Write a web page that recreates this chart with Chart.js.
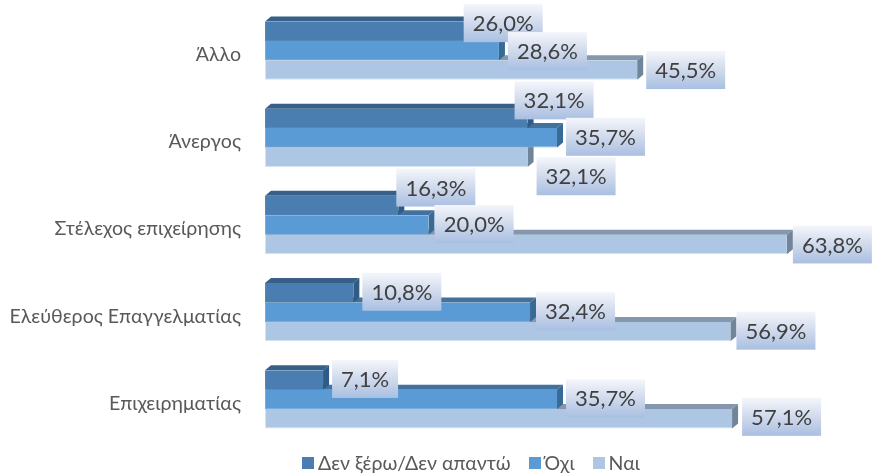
<!DOCTYPE html>
<html lang="el">
<head>
<meta charset="utf-8">
<script src="https://cdn.jsdelivr.net/npm/chart.js@4"></script>
<style>
  html, body { margin: 0; background: #fff; }
  #wrap { position: relative; width: 872px; height: 475px; overflow: hidden; }
  #legend { position: absolute; left: 302px; top: 450px; display: flex; font: 19.5px Lato, "Open Sans", sans-serif; color: #595959; line-height: 26px; }
  #legend span.item { display: flex; align-items: center; margin-right: 18px; white-space: nowrap; }
  #legend i { width: 12px; height: 12px; margin-right: 4px; display: block; }
</style>
</head>
<body>
<div id="wrap">
  <canvas id="chart" width="872" height="475"></canvas>
  <div id="legend"></div>
</div>
<script>
const categories = ['Άλλο', 'Άνεργος', 'Στέλεχος επιχείρησης', 'Ελεύθερος Επαγγελματίας', 'Επιχειρηματίας'];
const seriesNames = ['Δεν ξέρω/Δεν απαντώ', 'Όχι', 'Ναι'];
const dontKnow = [26.0, 32.1, 16.3, 10.8, 7.1];
const no = [28.6, 35.7, 20.0, 32.4, 35.7];
const yes = [45.5, 32.1, 63.8, 56.9, 57.1];

const frontColors = ['#4a7eb0', '#5b9bd5', '#adc6e4'];
const edgeColors = ['#5587b7', '#78aede', '#d8e3f2'];
const topColors = ['#375f88', '#41719c', '#8497ad'];
const sideColors = ['#2f5b85', '#386a96', '#71859a'];
const DEPTH_X = 6;
const DEPTH_Y = 5;

// the data labels were dragged around by hand in the original, offsets from bar end / bar centre
const labelDx = [[-14, -13, -2, 9, 9], [9, 9, 6, 6, 9], [9, 9, 6, 6, 10]];
const labelDy = [[-27, -37, -37, -20, -20], [-18.5, -20, -20, -20, -20], [-19, 0, -19, -20, -21]];

function pct(v) {
  return v.toFixed(1).replace('.', ',') + '%';
}

// fake 3D: top and side face behind every bar
const depthFaces = {
  id: 'depthFaces',
  beforeDatasetsDraw(chart) {
    const ctx = chart.ctx;
    for (let d = 2; d >= 0; d--) {
      chart.getDatasetMeta(d).data.forEach(bar => {
        const top = bar.y - bar.height / 2;
        const bottom = bar.y + bar.height / 2;
        ctx.fillStyle = topColors[d];
        ctx.beginPath();
        ctx.moveTo(bar.base, top);
        ctx.lineTo(bar.base + DEPTH_X, top - DEPTH_Y);
        ctx.lineTo(bar.x + DEPTH_X, top - DEPTH_Y);
        ctx.lineTo(bar.x, top);
        ctx.fill();
        ctx.fillStyle = sideColors[d];
        ctx.beginPath();
        ctx.moveTo(bar.x, top);
        ctx.lineTo(bar.x + DEPTH_X, top - DEPTH_Y);
        ctx.lineTo(bar.x + DEPTH_X, bottom - DEPTH_Y);
        ctx.lineTo(bar.x, bottom);
        ctx.fill();
      });
    }
  }
};

// value labels in gradient boxes
const valueBoxes = {
  id: 'valueBoxes',
  afterDatasetsDraw(chart) {
    const ctx = chart.ctx;
    ctx.font = '22px Lato, "Open Sans", sans-serif';
    ctx.textAlign = 'center';
    ctx.textBaseline = 'middle';
    chart.data.datasets.forEach((ds, d) => {
      chart.getDatasetMeta(d).data.forEach((bar, i) => {
        const text = pct(ds.data[i]);
        const w = Math.round(ctx.measureText(text).width) + 18;
        const h = 38;
        const x = bar.x + labelDx[d][i];
        const y = bar.y + labelDy[d][i];
        const grad = ctx.createLinearGradient(0, y, 0, y + h);
        grad.addColorStop(0, '#f4f6fb');
        grad.addColorStop(0.5, '#d0daec');
        grad.addColorStop(1, '#a9bfe2');
        ctx.fillStyle = grad;
        ctx.fillRect(x, y, w, h);
        ctx.fillStyle = '#404040';
        ctx.fillText(text, x + w / 2, y + h / 2 + 1);
      });
    });
  }
};

new Chart(document.getElementById('chart'), {
  type: 'bar',
  data: {
    labels: categories,
    datasets: [dontKnow, no, yes].map((values, d) => ({
      label: seriesNames[d],
      data: values,
      backgroundColor: frontColors[d],
      borderColor: edgeColors[d],
      borderWidth: { bottom: 1, left: 1 },
      borderSkipped: false,
      categoryPercentage: 0.669,
      barPercentage: 1
    }))
  },
  options: {
    indexAxis: 'y',
    responsive: false,
    animation: false,
    devicePixelRatio: 1,
    layout: { padding: { top: 7, bottom: 32, right: 34.4, left: 0 } },
    plugins: { legend: { display: false }, tooltip: { enabled: false } },
    scales: {
      x: { display: false, min: 0, max: 70 },
      y: {
        afterFit(scale) { scale.width = 265; scale.paddingTop = 0; scale.paddingBottom = 0; },
        grid: { display: false, drawTicks: false },
        border: { display: false },
        ticks: { color: '#595959', padding: 24, labelOffset: 4, font: { size: 19.6, family: 'Lato, "Open Sans", sans-serif' } }
      }
    }
  },
  plugins: [depthFaces, valueBoxes]
});

// legend sits off-centre in the original, so it is built by hand
const legend = document.getElementById('legend');
seriesNames.forEach((name, d) => {
  const item = document.createElement('span');
  item.className = 'item';
  item.innerHTML = `<i style="background:${frontColors[d]}"></i>${name}`;
  legend.appendChild(item);
});
</script>
</body>
</html>
